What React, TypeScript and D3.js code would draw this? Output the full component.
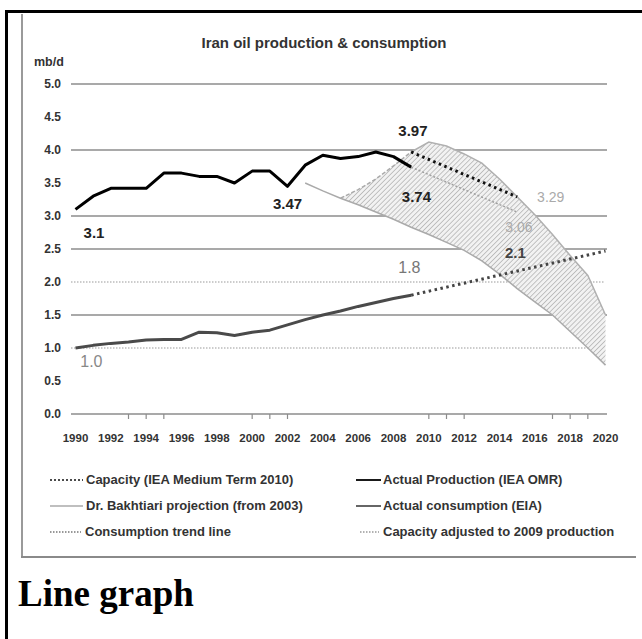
import React from "react";
import * as d3 from "d3";

// ---- data ----
const productionYears = [1990, 1991, 1992, 1993, 1994, 1995, 1996, 1997, 1998, 1999, 2000, 2001, 2002, 2003, 2004, 2005, 2006, 2007, 2008, 2009];
const productionValues = [3.1, 3.3, 3.42, 3.42, 3.42, 3.65, 3.65, 3.6, 3.6, 3.5, 3.68, 3.68, 3.45, 3.77, 3.92, 3.87, 3.9, 3.97, 3.9, 3.74];
const consumptionValues = [1.0, 1.04, 1.07, 1.09, 1.12, 1.13, 1.13, 1.24, 1.23, 1.19, 1.24, 1.27, 1.35, 1.43, 1.5, 1.56, 1.63, 1.69, 1.75, 1.8];

const bakhtiariYears = [2003, 2004, 2005, 2006, 2007, 2008, 2009, 2010, 2011, 2012, 2013, 2014, 2015, 2016, 2017, 2018, 2019, 2020];
const bakhtiariValues = [3.5, 3.38, 3.27, 3.17, 3.06, 2.95, 2.83, 2.72, 2.6, 2.48, 2.32, 2.12, 1.9, 1.7, 1.5, 1.25, 1.0, 0.74];

const bandYears = [2005, 2006, 2007, 2008, 2009, 2010, 2011, 2012, 2013, 2014, 2015, 2016, 2017, 2018, 2019, 2020];
const bandUpperValues = [3.27, 3.4, 3.56, 3.76, 3.97, 4.12, 4.06, 3.94, 3.8, 3.56, 3.29, 3.02, 2.72, 2.4, 2.1, 1.5];

const capacityYears = [2009, 2015];
const capacityValues = [3.97, 3.29];
const capacityAdjYears = [2009, 2015];
const capacityAdjValues = [3.74, 3.06];
const trendYears = [2009, 2020];
const trendValues = [1.8, 2.47];

const yTicks = [0, 0.5, 1, 1.5, 2, 2.5, 3, 3.5, 4, 4.5, 5];
const solidGrid = [5, 4, 3, 2.5, 1.5];
const dottedGrid = [2, 1];
const xLabelYears = [1990, 1992, 1994, 1996, 1998, 2000, 2002, 2004, 2006, 2008, 2010, 2012, 2014, 2016, 2018, 2020];
const tickYears = [1993, 1994, 1995, 2000, 2001, 2002, 2010, 2011, 2012, 2017, 2018, 2019];

const title = "Iran oil production & consumption";
const unitLabel = "mb/d";
const caption = "Line graph";

const legendLeft = ["Capacity (IEA Medium Term 2010)", "Dr. Bakhtiari projection (from 2003)", "Consumption trend line"];
const legendRight = ["Actual Production (IEA OMR)", "Actual consumption (EIA)", "Capacity adjusted to 2009 production"];

const FONT = "'Liberation Sans', Arial, sans-serif";

type P = [number, number];
const zip = (a: number[], b: number[]): P[] => a.map((v, i) => [v, b[i]]);

export default function App() {
  const x = d3.scaleLinear().domain([1990, 2020]).range([75.5, 605.5]);
  const y = d3.scaleLinear().domain([0, 5]).range([414, 84]);
  const line = d3.line<P>().x((d) => x(d[0])).y((d) => y(d[1]));

  const lowerMap = new Map(bakhtiariYears.map((yr, i) => [yr, bakhtiariValues[i]]));
  const bandData = bandYears.map((yr, i) => ({ yr, lo: lowerMap.get(yr) as number, hi: bandUpperValues[i] }));
  const area = d3
    .area<{ yr: number; lo: number; hi: number }>()
    .x((d) => x(d.yr))
    .y0((d) => y(d.lo))
    .y1((d) => y(d.hi));

  const upperPts = zip(bandYears, bandUpperValues);
  const peakIdx = bandYears.indexOf(2009);

  const gridX0 = 71;
  const gridX1 = 607;

  const annotations = [
    { t: "3.1", yr: 1991.05, v: 2.66, c: "#222", w: 700, s: 15 },
    { t: "3.47", yr: 2002.0, v: 3.11, c: "#222", w: 700, s: 15 },
    { t: "3.97", yr: 2009.1, v: 4.21, c: "#222", w: 700, s: 15 },
    { t: "3.74", yr: 2009.3, v: 3.21, c: "#222", w: 700, s: 15 },
    { t: "3.29", yr: 2016.9, v: 3.21, c: "#aaa", w: 400, s: 14 },
    { t: "3.06", yr: 2015.1, v: 2.76, c: "#aaa", w: 400, s: 14 },
    { t: "2.1", yr: 2014.9, v: 2.37, c: "#444", w: 700, s: 15 },
    { t: "1.8", yr: 2008.9, v: 2.14, c: "#777", w: 400, s: 16 },
    { t: "1.0", yr: 1990.9, v: 0.71, c: "#888", w: 400, s: 16 },
  ];

  const legendRows = [484, 510, 536];
  const lx0 = 50, lx1 = 83, ltx = 86;
  const rx0 = 356, rx1 = 381, rtx = 383;

  return (
    <div style={{ position: "absolute", left: 0, top: 0 }}>
      <svg width={642} height={639} style={{ display: "block" }} fontFamily={FONT}>
        <defs>
          <pattern id="hatch" width="3.5" height="3.5" patternUnits="userSpaceOnUse" patternTransform="rotate(45)">
            <rect width="3.5" height="3.5" fill="#f2f2f2" />
            <line x1="0" y1="0" x2="0" y2="3.5" stroke="#a8a8a8" strokeWidth="1.3" />
          </pattern>
        </defs>
        <rect x={0} y={0} width={642} height={639} fill="#fff" />
        {/* outer frame */}
        <rect x={6.5} y={11.5} width={700} height={700} fill="none" stroke="#000" strokeWidth={3} />
        {/* chart image frame */}
        <line x1={22} y1={14} x2={22} y2={558} stroke="#9a9a9a" strokeWidth={2} />
        <line x1={21} y1={557} x2={636} y2={557} stroke="#8a8a8a" strokeWidth={2} />

        {/* title */}
        <text x={324} y={48} textAnchor="middle" fontSize={15} fontWeight={700} fill="#333">
          {title}
        </text>
        <text x={34} y={66} fontSize={12.5} fontWeight={700} fill="#333">
          {unitLabel}
        </text>

        {/* gridlines */}
        {solidGrid.map((v) => (
          <line key={"g" + v} x1={gridX0} x2={gridX1} y1={y(v)} y2={y(v)} stroke="#8c8c8c" strokeWidth={1.5} />
        ))}
        {dottedGrid.map((v) => (
          <line key={"d" + v} x1={gridX0} x2={gridX1 - 3} y1={y(v)} y2={y(v)} stroke="#9a9a9a" strokeWidth={1.2} strokeDasharray="1.5 1.5" />
        ))}
        {/* x axis */}
        <line x1={gridX0} x2={gridX1} y1={y(0)} y2={y(0)} stroke="#8c8c8c" strokeWidth={1.5} />
        {tickYears.map((yr) => (
          <line key={"t" + yr} x1={x(yr)} x2={x(yr)} y1={y(0)} y2={y(0) + 5} stroke="#8c8c8c" strokeWidth={1.2} />
        ))}

        {/* y labels */}
        {yTicks.map((v) => (
          <text key={"yl" + v} x={61} y={y(v) + 4} textAnchor="end" fontSize={12} fontWeight={700} fill="#333">
            {v.toFixed(1)}
          </text>
        ))}
        {/* x labels */}
        {xLabelYears.map((yr) => (
          <text key={"xl" + yr} x={x(yr)} y={442} textAnchor="middle" fontSize={11.5} fontWeight={700} fill="#333">
            {yr}
          </text>
        ))}

        {/* band */}
        <path d={area(bandData) || ""} fill="url(#hatch)" stroke="none" />
        <path d={line(zip(bakhtiariYears, bakhtiariValues)) || ""} fill="none" stroke="#aaa" strokeWidth={1.5} />
        <path d={line(upperPts.slice(0, peakIdx + 1)) || ""} fill="none" stroke="#aaa" strokeWidth={1.5} strokeDasharray="4 2" />
        <path d={line(upperPts.slice(peakIdx)) || ""} fill="none" stroke="#b0b0b0" strokeWidth={1.5} />

        {/* capacity adjusted */}
        <path d={line(zip(capacityAdjYears, capacityAdjValues)) || ""} fill="none" stroke="#a0a0a0" strokeWidth={1.5} strokeDasharray="2 2" />
        {/* capacity */}
        <path d={line(zip(capacityYears, capacityValues)) || ""} fill="none" stroke="#111" strokeWidth={3} strokeDasharray="2.5 3.5" />
        {/* consumption trend */}
        <path d={line(zip(trendYears, trendValues)) || ""} fill="none" stroke="#444" strokeWidth={3} strokeDasharray="2.5 3.5" />
        {/* consumption */}
        <path d={line(zip(productionYears, consumptionValues)) || ""} fill="none" stroke="#4a4a4a" strokeWidth={3} strokeLinejoin="round" />
        {/* production */}
        <path d={line(zip(productionYears, productionValues)) || ""} fill="none" stroke="#000" strokeWidth={3} strokeLinejoin="round" />

        {/* annotations */}
        {annotations.map((a) => (
          <text key={a.t} x={x(a.yr)} y={y(a.v)} textAnchor="middle" fontSize={a.s} fontWeight={a.w} fill={a.c}>
            {a.t}
          </text>
        ))}

        {/* legend */}
        <g fontSize={13} fontWeight={700} fill="#333">
          {/* left column */}
          <line x1={lx0} x2={lx1} y1={legendRows[0] - 4} y2={legendRows[0] - 4} stroke="#111" strokeWidth={1.5} strokeDasharray="2 2" />
          <text x={ltx} y={legendRows[0]}>{legendLeft[0]}</text>
          <line x1={lx0} x2={lx1} y1={legendRows[1] - 4} y2={legendRows[1] - 4} stroke="#aaa" strokeWidth={1.5} />
          <text x={ltx} y={legendRows[1]}>{legendLeft[1]}</text>
          <line x1={lx0} x2={lx1 - 2} y1={legendRows[2] - 4} y2={legendRows[2] - 4} stroke="#777" strokeWidth={1.5} strokeDasharray="1.5 1.5" />
          <text x={ltx - 1} y={legendRows[2]}>{legendLeft[2]}</text>
          {/* right column */}
          <line x1={rx0} x2={rx1} y1={legendRows[0] - 4} y2={legendRows[0] - 4} stroke="#000" strokeWidth={1.8} />
          <text x={rtx} y={legendRows[0]}>{legendRight[0]}</text>
          <line x1={rx0} x2={rx1} y1={legendRows[1] - 4} y2={legendRows[1] - 4} stroke="#555" strokeWidth={1.8} />
          <text x={rtx} y={legendRows[1]}>{legendRight[1]}</text>
          <line x1={rx0 + 4} x2={rx1 - 2} y1={legendRows[2] - 4} y2={legendRows[2] - 4} stroke="#999" strokeWidth={1.5} strokeDasharray="1.5 1.5" />
          <text x={rtx} y={legendRows[2]}>{legendRight[2]}</text>
        </g>

        {/* caption */}
        <text x={18} y={606} fontFamily="'Liberation Serif', 'Times New Roman', serif" fontSize={37} fontWeight={700} fill="#000">
          {caption}
        </text>
      </svg>
    </div>
  );
}
